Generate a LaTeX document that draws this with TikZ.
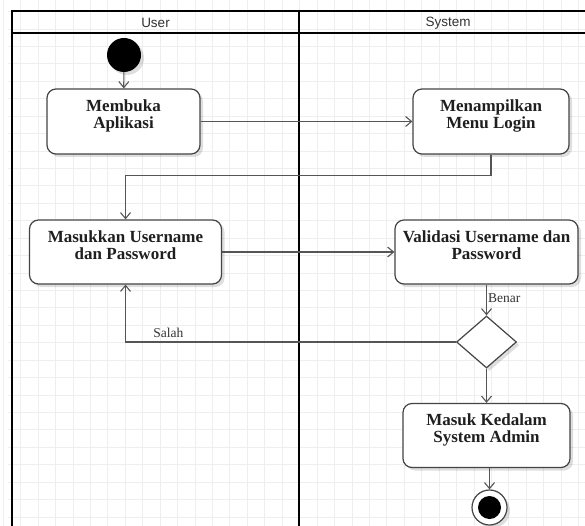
\documentclass[tikz,border=0pt]{standalone}
\usepackage{fontspec}
\setmainfont{Liberation Serif}
\newfontfamily\headfont{Liberation Sans}
\usetikzlibrary{arrows.meta,shapes.geometric,shadows}
\definecolor{gridc}{HTML}{EEEEEE}
\definecolor{edgec}{HTML}{555555}
\definecolor{boxc}{HTML}{444444}
\definecolor{headc}{HTML}{333333}
\begin{document}
\begin{tikzpicture}[x=1pt,y=-1pt,
  soft/.style={drop shadow={shadow xshift=3pt,shadow yshift=-3pt,opacity=0.13,fill=black}},
  actbox/.style={draw=boxc,line width=1.2pt,rounded corners=9pt,fill=white,soft,inner sep=0pt},
  acttext/.style={anchor=north,align=center,inner sep=0pt,text=black!88,
                  font=\bfseries\fontsize{17}{17}\selectfont},
  flow/.style={draw=edgec,line width=1.1pt,-{Straight Barb[length=6pt,width=10pt]}},
  guard/.style={font=\fontsize{13.5}{14}\selectfont,text=black!80,inner sep=1pt},
  lane/.style={draw=black,line width=1.6pt},
  headtext/.style={font=\headfont\fontsize{13.5}{14}\selectfont,text=headc}]

\useasboundingbox (0,0) rectangle (585,526);
\clip (0,0) rectangle (585,526);
\fill[white] (0,0) rectangle (585,526);

% background grid
\foreach \gx in {0,...,33} {\draw[gridc,line width=0.8pt] ({3.3+17.43*\gx},0) -- ({3.3+17.43*\gx},526);}
\foreach \gy in {0,...,30} {\draw[gridc,line width=0.8pt] (8,{11.5+17.43*(\gy-1)}) -- (585,{11.5+17.43*(\gy-1)});}

% swimlanes
\draw[lane] (12,540) -- (12,11) -- (597,11) -- (597,540);
\draw[lane] (12,33) -- (597,33);
\draw[lane] (299,11) -- (299,540);
\node[headtext] (hu) at (155.5,23) {User};
\node[headtext] (hs) at (448,23) {System};

% start and end states
\node[circle,fill=black,minimum size=34pt,inner sep=0pt,soft] (start) at (124,55) {};
\node[circle,draw=boxc,line width=1.2pt,fill=white,minimum size=35pt,inner sep=0pt,soft] (end) at (489.5,507.5) {};
\node[circle,fill=black,minimum size=23pt,inner sep=0pt] (endc) at (end.center) {};

% activities
\node[actbox,minimum width=153pt,minimum height=65pt] (a) at (123.5,121.5) {};
\node[acttext] (at) at ([yshift=-11pt]a.north) {Membuka\\Aplikasi};
\node[actbox,minimum width=156pt,minimum height=65pt] (b) at (491,121.5) {};
\node[acttext] (bt) at ([yshift=-11pt]b.north) {Menampilkan\\Menu Login};
\node[actbox,minimum width=192pt,minimum height=64pt] (c) at (125.5,252) {};
\node[acttext] (ct) at ([yshift=-11pt]c.north) {Masukkan Username\\dan Password};
\node[actbox,minimum width=183pt,minimum height=64pt] (d) at (486.5,252) {};
\node[acttext] (dt) at ([yshift=-11pt]d.north) {Validasi Username dan\\Password};
\node[diamond,draw=boxc,line width=1.2pt,fill=white,soft,inner sep=0pt,
      minimum width=60pt,minimum height=52pt] (e) at (486.5,342) {};
\node[actbox,minimum width=167pt,minimum height=64pt] (f) at (486.5,435.5) {};
\node[acttext] (ft) at ([yshift=-11pt]f.north) {Masuk Kedalam\\System Admin};

% transitions
\draw[flow] (start) -- (a);
\draw[flow] (a.east) -- (b.west);
\draw[flow] (b.south) -- ++(0,21) -| (c.north);
\draw[flow] (c.east) -- (d.west);
\draw[flow] (d.south) -- node[guard,anchor=west,pos=0.45] (gb) {Benar} (e.north);
\draw[flow] (e.west) -| node[guard,anchor=south,pos=0.435,yshift=3pt] (gs) {Salah} (c.south);
\draw[flow] (e.south) -- (f.north);
\draw[flow] (end |- f.south) -- (end.north);
\end{tikzpicture}
\end{document}
